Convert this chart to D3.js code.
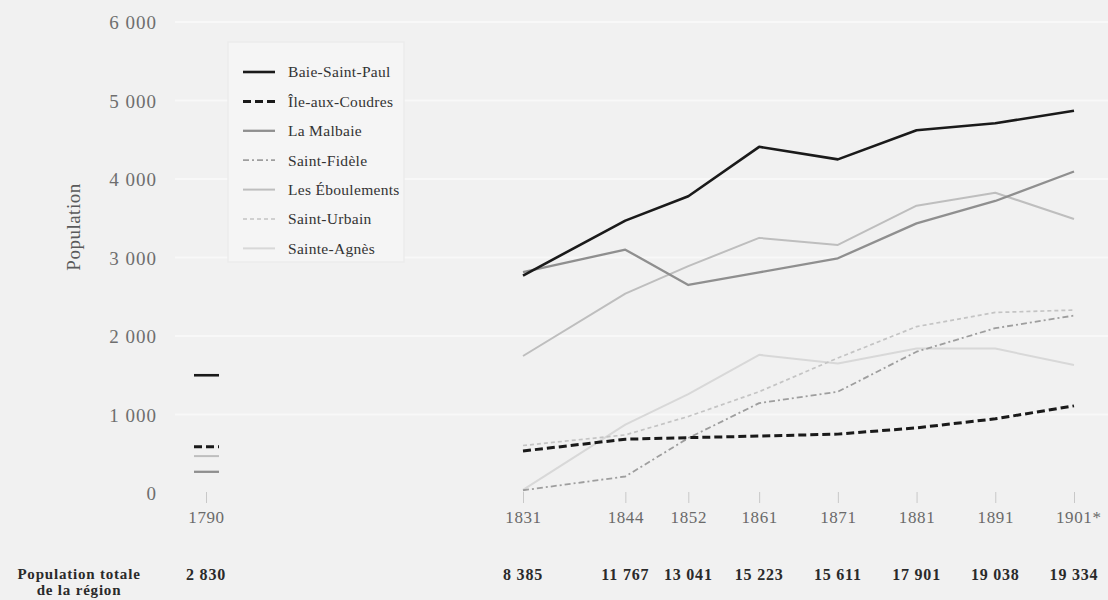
<!DOCTYPE html>
<html><head><meta charset="utf-8">
<script src="https://cdn.jsdelivr.net/npm/d3@7"></script>
<style>
html,body{margin:0;padding:0;background:#f1f1f1;}
svg{display:block;}
svg text{font-family:"Liberation Serif","Times New Roman",serif;}
</style></head>
<body>
<svg id="chart" width="1108" height="600"></svg>
<script>
// ---- data ----
const years = [1790, 1831, 1844, 1852, 1861, 1871, 1881, 1891, 1901];
const yearLabels = ["1790", "1831", "1844", "1852", "1861", "1871", "1881", "1891", "1901*"];
const totals = ["2 830", "8 385", "11 767", "13 041", "15 223", "15 611", "17 901", "19 038", "19 334"];
const yTicks = [0, 1000, 2000, 3000, 4000, 5000, 6000];

const baieSaintPaul   = [1500, 2770, 3470, 3780, 4410, 4250, 4620, 4710, 4870];
const ileAuxCoudres   = [590, 535, 685, 705, 725, 750, 830, 945, 1110];
const laMalbaie       = [270, 2815, 3100, 2650, 2810, 2990, 3435, 3720, 4095];
const saintFidele     = [null, 35, 210, 700, 1145, 1290, 1800, 2100, 2260];
const lesEboulements  = [470, 1745, 2540, 2890, 3250, 3160, 3660, 3825, 3490];
const saintUrbain     = [null, 605, 740, 975, 1290, 1720, 2120, 2300, 2330];
const sainteAgnes     = [null, 40, 870, 1260, 1760, 1650, 1840, 1840, 1630];

const seriesNames = ["Baie-Saint-Paul", "Île-aux-Coudres", "La Malbaie", "Saint-Fidèle",
                     "Les Éboulements", "Saint-Urbain", "Sainte-Agnès"];
const seriesValues = [baieSaintPaul, ileAuxCoudres, laMalbaie, saintFidele,
                      lesEboulements, saintUrbain, sainteAgnes];

// ---- styles ----
const styles = [
  {color:"#1a1a1a", width:2.6, dash:null},
  {color:"#1a1a1a", width:3, dash:"8,4"},
  {color:"#8f8f8f", width:2.3, dash:null},
  {color:"#9e9e9e", width:1.8, dash:"6,3,2,3"},
  {color:"#bebebe", width:2, dash:null},
  {color:"#c4c4c4", width:1.7, dash:"4,3"},
  {color:"#d8d8d8", width:2, dash:null}
];
const serif = "Liberation Serif, Times New Roman, serif";

const svg = d3.select("#chart");
const x = d3.scaleLinear().domain([1790, 1831, 1901]).range([206, 523, 1074]);
const y = d3.scaleLinear().domain([0, 6000]).range([493, 22]);

// gridlines
svg.append("g").selectAll("line").data(yTicks.filter(d => d > 0)).join("line")
  .attr("x1", 175).attr("x2", 1108)
  .attr("y1", d => y(d)).attr("y2", d => y(d))
  .attr("stroke", "#f8f8f8").attr("stroke-width", 2);

// y axis (labels only)
const yAxis = d3.axisLeft(y).tickValues(yTicks).tickSize(0).tickPadding(0)
  .tickFormat(d => d3.format(",")(d).replace(",", " "));
const gy = svg.append("g").attr("transform", "translate(157,0)").call(yAxis);
gy.attr("font-family", serif);
gy.select(".domain").remove();
gy.selectAll("text").attr("font-size", 19).attr("letter-spacing", 1)
  .attr("fill", "#6e6e6e").attr("dy", "0.35em");

svg.append("text").attr("transform", "translate(80,227) rotate(-90)")
  .attr("text-anchor", "middle").attr("font-size", 19).attr("letter-spacing", 0.5)
  .attr("fill", "#5a5a5a").attr("font-family", serif).text("Population");

// x axis
const xAxis = d3.axisBottom(x).tickValues(years).tickSize(11).tickPadding(8)
  .tickFormat((d, i) => yearLabels[i]);
const gx = svg.append("g").attr("transform", "translate(0,492)").call(xAxis);
gx.attr("font-family", serif);
gx.select(".domain").remove();
gx.selectAll("line").attr("stroke", "#c8c8c8").attr("stroke-width", 1);
gx.selectAll("text").attr("font-size", 17).attr("letter-spacing", 0.6).attr("fill", "#6a6a6a");
gx.selectAll(".tick").filter((d) => d === 1901).select("text").attr("dx", "0.25em");

// lines (draw lighter first)
const line = d3.line().defined(d => d.v != null && d.yr > 1790)
  .x(d => x(d.yr)).y(d => y(d.v));
const order = [6, 5, 4, 3, 2, 1, 0];
order.forEach(i => {
  const data = years.map((yr, j) => ({yr, v: seriesValues[i][j]}));
  const st = styles[i];
  svg.append("path").datum(data).attr("d", line)
    .attr("fill", "none").attr("stroke", st.color).attr("stroke-width", st.width)
    .attr("stroke-dasharray", st.dash).attr("stroke-linejoin", "round");
  // 1790 marker
  if (seriesValues[i][0] != null) {
    svg.append("line")
      .attr("x1", x(1790) - 12).attr("x2", x(1790) + 13)
      .attr("y1", y(seriesValues[i][0])).attr("y2", y(seriesValues[i][0]))
      .attr("stroke", st.color).attr("stroke-width", st.width)
      .attr("stroke-dasharray", st.dash);
  }
});

// legend
const lg = svg.append("g").attr("font-family", serif);
lg.append("rect").attr("x", 228).attr("y", 42).attr("width", 176).attr("height", 220)
  .attr("fill", "#f5f5f5").attr("stroke", "#ebebeb").attr("stroke-width", 1.5);
seriesNames.forEach((name, i) => {
  const yy = 72 + i * 29.4;
  const st = styles[i];
  lg.append("line").attr("x1", 243).attr("x2", 275).attr("y1", yy).attr("y2", yy)
    .attr("stroke", st.color).attr("stroke-width", st.width).attr("stroke-dasharray", st.dash);
  lg.append("text").attr("x", 288).attr("y", yy).attr("dy", "0.35em")
    .attr("font-size", 15.5).attr("letter-spacing", 0.3).attr("fill", "#333").text(name);
});

// bottom totals row
const bt = svg.append("g").attr("font-family", serif).attr("font-weight", "bold").attr("fill", "#2a2a2a");
bt.append("text").attr("x", 79).attr("y", 579).attr("text-anchor", "middle")
  .attr("font-size", 15).attr("letter-spacing", 0.8).text("Population totale");
bt.append("text").attr("x", 79).attr("y", 595).attr("text-anchor", "middle")
  .attr("font-size", 15).attr("letter-spacing", 0.8).text("de la région");
bt.selectAll("text.tot").data(totals).join("text").attr("class", "tot")
  .attr("x", (d, i) => x(years[i])).attr("y", 580).attr("text-anchor", "middle")
  .attr("font-size", 16).attr("letter-spacing", 0.8).text(d => d);
</script>
</body></html>
